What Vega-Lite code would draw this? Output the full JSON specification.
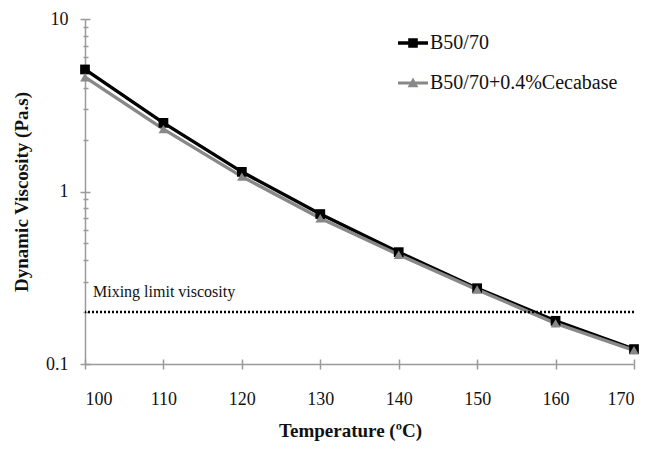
{
  "$schema": "https://vega.github.io/schema/vega-lite/v6.json",
  "autosize": {"type": "none"},
  "padding": {"left": 85, "top": 19, "right": 16, "bottom": 86},
  "width": 549,
  "height": 345,
  "background": "white",
  "config": {
    "view": {"stroke": null},
    "font": "Liberation Serif",
    "axis": {
      "domainColor": "#9a9a9a",
      "domainWidth": 1.5,
      "tickColor": "#9a9a9a",
      "tickWidth": 1.5,
      "grid": false,
      "labelFont": "Liberation Serif",
      "labelFontSize": 18,
      "labelColor": "#111111",
      "titleFont": "Liberation Serif",
      "titleFontSize": 19,
      "titleFontWeight": "bold",
      "titleColor": "#111111"
    },
    "legend": {
      "labelFont": "Liberation Serif",
      "labelFontSize": 20,
      "labelColor": "#111111",
      "labelLimit": 400
    }
  },
  "data": {
    "values": [
      {"T": 100, "series": "B50/70", "v": 5.1},
      {"T": 110, "series": "B50/70", "v": 2.5},
      {"T": 120, "series": "B50/70", "v": 1.3},
      {"T": 130, "series": "B50/70", "v": 0.74},
      {"T": 140, "series": "B50/70", "v": 0.445},
      {"T": 150, "series": "B50/70", "v": 0.275},
      {"T": 160, "series": "B50/70", "v": 0.178},
      {"T": 170, "series": "B50/70", "v": 0.122},
      {"T": 100, "series": "B50/70+0.4%Cecabase", "v": 4.6},
      {"T": 110, "series": "B50/70+0.4%Cecabase", "v": 2.3},
      {"T": 120, "series": "B50/70+0.4%Cecabase", "v": 1.22},
      {"T": 130, "series": "B50/70+0.4%Cecabase", "v": 0.7},
      {"T": 140, "series": "B50/70+0.4%Cecabase", "v": 0.43},
      {"T": 150, "series": "B50/70+0.4%Cecabase", "v": 0.27},
      {"T": 160, "series": "B50/70+0.4%Cecabase", "v": 0.172},
      {"T": 170, "series": "B50/70+0.4%Cecabase", "v": 0.12}
    ]
  },
  "resolve": {"axis": {"x": "independent", "y": "independent"}},
  "layer": [
    {
      "mark": {"type": "point", "opacity": 0},
      "encoding": {
        "x": {"field": "T", "type": "quantitative", "scale": {"domain": [100, 170], "nice": false, "zero": false},
          "axis": {"orient": "bottom", "values": [100, 110, 120, 130, 140, 150, 160, 170], "tickSize": -5, "labels": false, "domain": false, "title": null}},
        "y": {"field": "v", "type": "quantitative", "scale": {"type": "log", "domain": [0.1, 10], "nice": false},
          "axis": {"orient": "left", "values": [0.1, 0.2, 0.3, 0.4, 0.5, 0.6, 0.7, 0.8, 0.9, 1, 2, 3, 4, 5, 6, 7, 8, 9, 10],
            "tickSize": {"condition": {"test": "datum.value == 0.1 || datum.value == 1 || datum.value == 10", "value": -5}, "value": -3},
            "labels": false, "domain": false, "title": null}}
      }
    },
    {
      "mark": {"type": "line", "strokeWidth": 3.4},
      "encoding": {
        "x": {"field": "T", "type": "quantitative",
          "axis": {"orient": "bottom", "values": [100, 110, 120, 130, 140, 150, 160, 170], "tickSize": 5, "labelPadding": 21,
            "title": "Temperature (ºC)", "titlePadding": 13, "titleX": 265, "titleAlign": "center"}},
        "y": {"field": "v", "type": "quantitative",
          "axis": {"orient": "left", "values": [0.1, 0.2, 0.3, 0.4, 0.5, 0.6, 0.7, 0.8, 0.9, 1, 2, 3, 4, 5, 6, 7, 8, 9, 10],
            "labelExpr": "datum.value == 0.1 ? '0.1' : datum.value == 1 ? '1' : datum.value == 10 ? '10' : ''",
            "tickSize": {"condition": {"test": "datum.value == 0.1 || datum.value == 1 || datum.value == 10", "value": 5}, "value": 2},
            "labelPadding": 12, "title": "Dynamic Viscosity (Pa.s)", "titlePadding": 14}},
        "color": {"field": "series", "type": "nominal",
          "scale": {"domain": ["B50/70", "B50/70+0.4%Cecabase"], "range": ["#000000", "#888888"]},
          "legend": {
            "title": null, "orient": "none", "legendX": 313, "legendY": 9, "padding": 0,
            "symbolSize": 900, "symbolStrokeWidth": 0, "labelOffset": 2, "rowPadding": 15, "labelLimit": 400
          }}
      }
    },
    {
      "transform": [{"filter": "datum.T > 1000"}],
      "mark": {"type": "point", "filled": true, "opacity": 1},
      "encoding": {
        "x": {"field": "T", "type": "quantitative", "axis": null},
        "y": {"field": "v", "type": "quantitative", "axis": null},
        "color": {"field": "series", "type": "nominal"},
        "shape": {"field": "series", "type": "nominal",
          "scale": {"domain": ["B50/70", "B50/70+0.4%Cecabase"],
            "range": ["M-1,-0.11H1V0.11H-1Z M-0.32,-0.32H0.32V0.32H-0.32Z", "M-1,-0.1H1V0.1H-1Z M0,-0.36L0.36,0.28H-0.36Z"]}}
      }
    },
    {
      "transform": [{"filter": "datum.series == 'B50/70'"}],
      "mark": {"type": "point", "filled": true, "opacity": 1, "size": 95, "shape": "square", "color": "#000000"},
      "encoding": {
        "x": {"field": "T", "type": "quantitative", "axis": null},
        "y": {"field": "v", "type": "quantitative", "axis": null}
      }
    },
    {
      "transform": [{"filter": "datum.series == 'B50/70+0.4%Cecabase'"}],
      "mark": {"type": "point", "filled": true, "opacity": 1, "size": 95, "shape": "triangle-up", "color": "#888888"},
      "encoding": {
        "x": {"field": "T", "type": "quantitative", "axis": null},
        "y": {"field": "v", "type": "quantitative", "axis": null}
      }
    },
    {
      "data": {"values": [{"limit": 0.2}]},
      "mark": {"type": "rule", "color": "#000000", "strokeWidth": 2.5, "strokeDash": [2, 2]},
      "encoding": {
        "y": {"field": "limit", "type": "quantitative", "axis": null}
      }
    },
    {
      "data": {"values": [{"T": 100, "limit": 0.2, "label": "Mixing limit viscosity"}]},
      "mark": {"type": "text", "align": "left", "baseline": "middle", "dx": 8, "dy": -20, "fontSize": 16, "font": "Liberation Serif", "color": "#111111"},
      "encoding": {
        "x": {"field": "T", "type": "quantitative", "axis": null},
        "y": {"field": "limit", "type": "quantitative", "axis": null},
        "text": {"field": "label"}
      }
    }
  ]
}
